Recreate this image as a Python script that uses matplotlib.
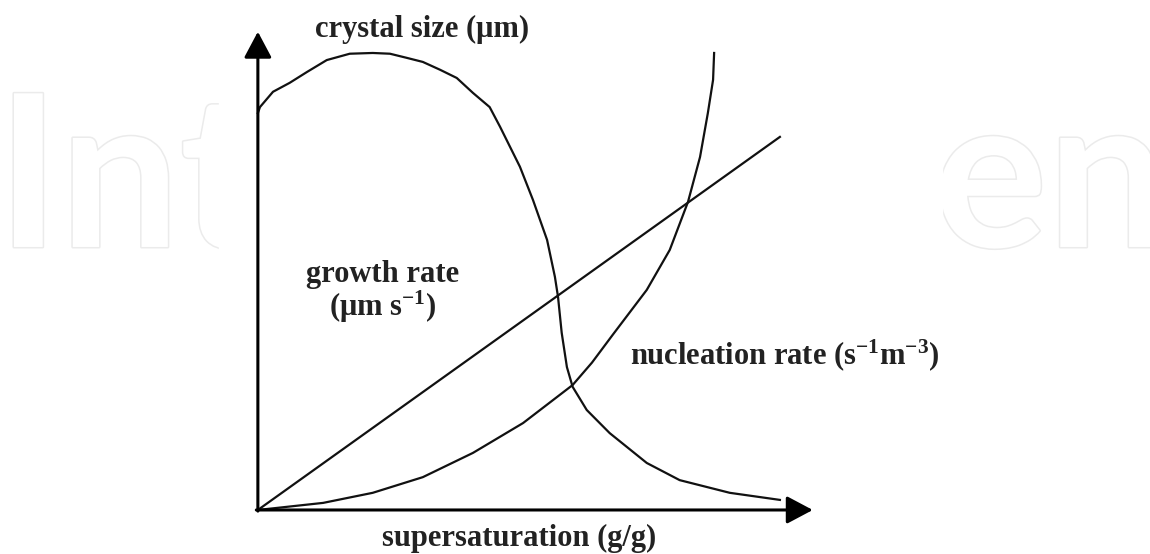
import matplotlib.pyplot as plt
import matplotlib.patheffects as pe

# curve values (x = supersaturation, arbitrary units)
line_x = [0, 10]
line_y = [0, 10]

crystal_x = [0, 0.04, 0.29, 0.61, 0.94, 1.32, 1.76, 2.20, 2.53, 2.85, 3.16,
             3.49, 3.81, 4.12, 4.44, 4.64, 5.02, 5.27, 5.54, 5.69, 5.75,
             5.82, 5.92, 6.03, 6.30, 6.74, 7.45, 8.08, 9.04, 10.0]
crystal_y = [10.64, 10.80, 11.21, 11.45, 11.74, 12.06, 12.23, 12.25, 12.23,
             12.12, 12.01, 11.80, 11.58, 11.18, 10.80, 10.27, 9.20, 8.31,
             7.24, 6.25, 5.71, 4.75, 3.83, 3.30, 2.68, 2.06, 1.26, 0.80,
             0.46, 0.27]

nucl_x = [0, 1.25, 2.20, 3.16, 4.12, 5.08, 6.03, 6.40, 6.80, 7.45, 7.89,
          8.24, 8.47, 8.62, 8.72, 8.74]
nucl_y = [0, 0.19, 0.46, 0.88, 1.53, 2.33, 3.35, 3.95, 4.70, 5.90, 6.97,
          8.26, 9.46, 10.64, 11.53, 12.25]

plt.rcParams['mathtext.fontset'] = 'custom'
plt.rcParams['mathtext.rm'] = 'Liberation Serif:bold'
plt.rcParams['mathtext.it'] = 'Liberation Serif:bold'
plt.rcParams['mathtext.bf'] = 'Liberation Serif:bold'

fig = plt.figure(figsize=(11.5, 5.54), dpi=100)
ax = fig.add_axes([0, 0, 1, 1])
ax.set_xlim(-4.94, 17.09)
ax.set_ylim(-1.18, 13.67)
ax.axis('off')

# faint watermark behind the chart
wm = dict(fontsize=153, family='Lato', fontweight='bold', color='white',
          va='baseline', zorder=0,
          path_effects=[pe.withStroke(linewidth=2.2, foreground='#ebebeb')])
ax.text(-5.0, 7.05, 'Int', ha='left', **wm)
ax.text(12.95, 7.05, 'en', ha='left', **wm)
ax.add_patch(plt.Rectangle((-0.75, -1.18), 13.85, 14.85, color='white', zorder=1))

# axes with arrow heads
arrow = dict(arrowstyle='-|>,head_length=1.6,head_width=0.85', lw=2.2,
             color='black', shrinkA=0, shrinkB=0)
ax.annotate('', xy=(0, 12.82), xytext=(0, -0.03), arrowprops=arrow, zorder=3)
ax.annotate('', xy=(10.63, 0), xytext=(-0.03, 0), arrowprops=arrow, zorder=3)

lw = 1.6
for xs, ys in [(line_x, line_y), (crystal_x, crystal_y), (nucl_x, nucl_y)]:
    ax.plot(xs, ys, color='#111111', lw=lw, zorder=2, solid_joinstyle='round')

txt = dict(family='Liberation Serif', fontweight='bold', fontsize=22,
           color='#222222', zorder=4)
ax.text(3.14, 12.87, 'crystal size (μm)', ha='center', va='center', **txt)
ax.text(2.39, 5.84, 'growth rate\n(μm s$^{-1}$)', ha='center', va='center',
        multialignment='center', linespacing=1.0, **txt)
ax.text(7.13, 4.16, 'nucleation rate (s$^{-1}$m$^{-3}$)', ha='left',
        va='center', **txt)
ax.text(5.0, -0.76, 'supersaturation (g/g)', ha='center', va='center', **txt)

plt.savefig('out.png', dpi=100)
